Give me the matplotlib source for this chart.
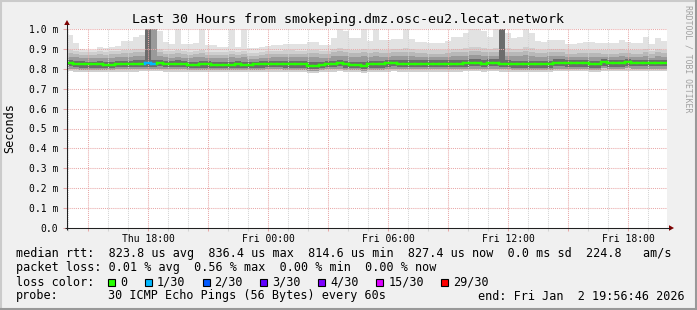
import numpy as np
import matplotlib
matplotlib.use("Agg")
import matplotlib.pyplot as plt
from matplotlib.collections import LineCollection
from matplotlib.patches import Rectangle, Polygon
from matplotlib.ticker import MultipleLocator

# ---------------- data ----------------
title = "Last 30 Hours from smokeping.dmz.osc-eu2.lecat.network"
start_hour = 13.946      # Thu 13:56:46 (hours since Thu 00:00)
span_hours = 30.0
bin_hours = 0.3

x_tick_hours = [18, 24, 30, 36, 42]
x_tick_labels = ["Thu 18:00", "Fri 00:00", "Fri 06:00", "Fri 12:00", "Fri 18:00"]
y_ticks = [0.0, 0.1, 0.2, 0.3, 0.4, 0.5, 0.6, 0.7, 0.8, 0.9, 1.0]
y_tick_labels = ["0.0", "0.1 m", "0.2 m", "0.3 m", "0.4 m", "0.5 m",
                 "0.6 m", "0.7 m", "0.8 m", "0.9 m", "1.0 m"]

median_ms = [
    0.829, 0.826, 0.822, 0.822, 0.822, 0.822, 0.819, 0.817, 0.824, 0.824,
    0.824, 0.824, 0.826, 0.831, 0.826, 0.829, 0.824, 0.824, 0.824, 0.824,
    0.817, 0.817, 0.822, 0.822, 0.819, 0.817, 0.817, 0.818, 0.822, 0.817,
    0.817, 0.822, 0.822, 0.824, 0.824, 0.824, 0.822, 0.822, 0.822, 0.822,
    0.816, 0.816, 0.818, 0.824, 0.824, 0.830, 0.822, 0.819, 0.819, 0.814,
    0.822, 0.822, 0.822, 0.828, 0.830, 0.825, 0.825, 0.825, 0.825, 0.825,
    0.825, 0.825, 0.823, 0.825, 0.825, 0.825, 0.828, 0.830, 0.830, 0.826,
    0.830, 0.830, 0.825, 0.824, 0.822, 0.822, 0.822, 0.822, 0.822, 0.822,
    0.822, 0.830, 0.830, 0.828, 0.828, 0.828, 0.828, 0.822, 0.822, 0.834,
    0.828, 0.828, 0.828, 0.834, 0.829, 0.829, 0.829, 0.829, 0.829, 0.829,
]
loss_count = [
    0, 0, 0, 0, 0, 0, 0, 0, 0, 0,
    0, 0, 0, 1, 1, 0, 0, 0, 0, 0,
    0, 0, 0, 0, 0, 0, 0, 0, 0, 0,
    0, 0, 0, 0, 0, 0, 0, 0, 0, 0,
    0, 0, 0, 0, 0, 0, 0, 0, 0, 0,
    0, 0, 0, 0, 0, 0, 0, 0, 0, 0,
    0, 0, 0, 0, 0, 0, 0, 0, 0, 0,
    0, 0, 0, 0, 0, 0, 0, 0, 0, 0,
    0, 0, 0, 0, 0, 0, 0, 0, 0, 0,
    0, 0, 0, 0, 0, 0, 0, 0, 0, 0,
]
smoke_max = [
    0.970, 0.930, 0.900, 0.895, 0.895, 0.910, 0.905, 0.910, 0.915, 0.940,
    0.940, 0.960, 0.970, 1.000, 1.000, 0.990, 0.935, 0.925, 1.000, 0.925,
    0.925, 0.930, 1.000, 0.920, 0.920, 0.910, 0.910, 1.000, 0.910, 1.000,
    0.905, 0.905, 0.910, 0.915, 0.920, 0.920, 0.925, 0.925, 0.925, 0.925,
    0.935, 0.935, 0.920, 0.920, 0.955, 1.000, 0.990, 0.955, 0.955, 1.000,
    0.940, 1.000, 0.945, 0.945, 0.950, 0.950, 1.000, 0.950, 0.935, 0.935,
    0.930, 0.930, 0.930, 0.940, 0.960, 0.960, 0.980, 1.000, 1.000, 0.990,
    0.960, 1.000, 1.000, 0.980, 0.955, 0.960, 1.000, 0.980, 0.940, 0.935,
    0.945, 0.945, 0.945, 0.925, 0.925, 0.930, 0.935, 0.935, 0.930, 0.930,
    0.930, 0.930, 0.945, 0.935, 0.930, 0.930, 0.960, 0.925, 0.955, 0.940,
]
smoke_p95 = [
    0.895, 0.890, 0.885, 0.882, 0.882, 0.888, 0.885, 0.888, 0.890, 0.895,
    0.895, 0.900, 0.900, 1.000, 1.000, 0.900, 0.890, 0.888, 0.895, 0.888,
    0.885, 0.890, 0.895, 0.885, 0.885, 0.882, 0.882, 0.890, 0.882, 0.890,
    0.880, 0.880, 0.885, 0.888, 0.890, 0.890, 0.892, 0.892, 0.890, 0.890,
    0.895, 0.895, 0.888, 0.888, 0.900, 0.905, 0.900, 0.895, 0.895, 0.900,
    0.895, 0.900, 0.895, 0.895, 0.900, 0.900, 0.905, 0.900, 0.895, 0.895,
    0.892, 0.892, 0.892, 0.895, 0.900, 0.900, 0.905, 0.910, 0.910, 0.905,
    0.900, 0.905, 1.000, 0.905, 0.900, 0.900, 0.910, 0.905, 0.895, 0.895,
    0.900, 0.900, 0.900, 0.892, 0.892, 0.895, 0.895, 0.895, 0.895, 0.892,
    0.892, 0.892, 0.898, 0.895, 0.892, 0.892, 0.900, 0.890, 0.900, 0.895,
]
smoke_p85 = [
    0.878, 0.875, 0.870, 0.868, 0.868, 0.872, 0.870, 0.872, 0.875, 0.878,
    0.878, 0.882, 0.882, 1.000, 1.000, 0.882, 0.875, 0.872, 0.878, 0.872,
    0.870, 0.875, 0.878, 0.870, 0.870, 0.868, 0.868, 0.875, 0.868, 0.875,
    0.865, 0.865, 0.870, 0.872, 0.875, 0.875, 0.876, 0.876, 0.875, 0.875,
    0.878, 0.878, 0.872, 0.872, 0.882, 0.888, 0.882, 0.878, 0.878, 0.882,
    0.878, 0.882, 0.878, 0.878, 0.882, 0.882, 0.886, 0.882, 0.878, 0.878,
    0.876, 0.876, 0.876, 0.878, 0.882, 0.882, 0.886, 0.890, 0.890, 0.886,
    0.882, 0.886, 1.000, 0.886, 0.882, 0.882, 0.890, 0.886, 0.878, 0.878,
    0.882, 0.882, 0.882, 0.876, 0.876, 0.878, 0.878, 0.878, 0.878, 0.876,
    0.876, 0.876, 0.880, 0.878, 0.876, 0.876, 0.882, 0.874, 0.882, 0.878,
]
smoke_p75 = [
    0.860, 0.858, 0.855, 0.852, 0.852, 0.855, 0.855, 0.856, 0.858, 0.860,
    0.860, 0.862, 0.862, 1.000, 1.000, 0.862, 0.858, 0.856, 0.860, 0.856,
    0.854, 0.858, 0.860, 0.855, 0.855, 0.852, 0.852, 0.858, 0.852, 0.858,
    0.850, 0.850, 0.854, 0.856, 0.858, 0.858, 0.858, 0.858, 0.858, 0.858,
    0.860, 0.860, 0.856, 0.856, 0.862, 0.866, 0.862, 0.860, 0.860, 0.862,
    0.860, 0.862, 0.860, 0.860, 0.862, 0.862, 0.865, 0.862, 0.860, 0.860,
    0.858, 0.858, 0.858, 0.860, 0.862, 0.862, 0.865, 0.868, 0.868, 0.865,
    0.862, 0.865, 1.000, 0.865, 0.862, 0.862, 0.868, 0.865, 0.860, 0.860,
    0.862, 0.862, 0.862, 0.858, 0.858, 0.860, 0.860, 0.860, 0.860, 0.858,
    0.858, 0.858, 0.862, 0.860, 0.858, 0.858, 0.862, 0.856, 0.862, 0.860,
]
smoke_p60 = [
    0.842, 0.840, 0.837, 0.836, 0.836, 0.838, 0.836, 0.835, 0.840, 0.840,
    0.840, 0.842, 0.845, 1.000, 0.845, 0.845, 0.840, 0.840, 0.842, 0.840,
    0.835, 0.836, 0.838, 0.838, 0.836, 0.834, 0.834, 0.836, 0.838, 0.834,
    0.834, 0.836, 0.838, 0.840, 0.840, 0.840, 0.838, 0.838, 0.838, 0.838,
    0.835, 0.835, 0.836, 0.840, 0.840, 0.846, 0.840, 0.836, 0.836, 0.834,
    0.838, 0.838, 0.838, 0.843, 0.845, 0.842, 0.842, 0.842, 0.842, 0.842,
    0.842, 0.842, 0.842, 0.842, 0.842, 0.842, 0.845, 0.847, 0.847, 0.843,
    0.847, 0.847, 1.000, 0.842, 0.840, 0.840, 0.840, 0.840, 0.840, 0.840,
    0.840, 0.847, 0.847, 0.845, 0.845, 0.845, 0.845, 0.840, 0.840, 0.850,
    0.845, 0.845, 0.845, 0.850, 0.846, 0.846, 0.846, 0.846, 0.846, 0.846,
]
smoke_p25 = [
    0.812, 0.810, 0.806, 0.806, 0.806, 0.806, 0.804, 0.802, 0.808, 0.808,
    0.808, 0.808, 0.810, 0.810, 0.810, 0.812, 0.808, 0.808, 0.808, 0.808,
    0.802, 0.802, 0.806, 0.806, 0.804, 0.802, 0.802, 0.803, 0.806, 0.802,
    0.802, 0.806, 0.806, 0.808, 0.808, 0.808, 0.806, 0.806, 0.806, 0.806,
    0.801, 0.801, 0.803, 0.808, 0.808, 0.812, 0.806, 0.804, 0.804, 0.800,
    0.806, 0.806, 0.806, 0.810, 0.812, 0.809, 0.809, 0.809, 0.809, 0.809,
    0.809, 0.809, 0.809, 0.809, 0.809, 0.809, 0.811, 0.812, 0.812, 0.810,
    0.812, 0.812, 0.809, 0.808, 0.806, 0.806, 0.806, 0.806, 0.806, 0.806,
    0.806, 0.812, 0.812, 0.811, 0.811, 0.811, 0.811, 0.806, 0.806, 0.815,
    0.811, 0.811, 0.811, 0.815, 0.812, 0.812, 0.812, 0.812, 0.812, 0.812,
]
smoke_p05 = [
    0.800, 0.798, 0.795, 0.795, 0.795, 0.795, 0.793, 0.792, 0.797, 0.797,
    0.797, 0.797, 0.799, 0.799, 0.799, 0.800, 0.797, 0.797, 0.797, 0.797,
    0.792, 0.792, 0.795, 0.795, 0.793, 0.792, 0.792, 0.792, 0.795, 0.792,
    0.792, 0.795, 0.795, 0.797, 0.797, 0.797, 0.795, 0.795, 0.795, 0.795,
    0.790, 0.790, 0.792, 0.797, 0.797, 0.800, 0.795, 0.793, 0.793, 0.790,
    0.795, 0.795, 0.795, 0.798, 0.800, 0.798, 0.798, 0.798, 0.798, 0.798,
    0.798, 0.798, 0.798, 0.798, 0.798, 0.798, 0.800, 0.800, 0.800, 0.798,
    0.800, 0.800, 0.798, 0.797, 0.795, 0.795, 0.795, 0.795, 0.795, 0.795,
    0.795, 0.800, 0.800, 0.799, 0.799, 0.799, 0.799, 0.795, 0.795, 0.802,
    0.799, 0.799, 0.799, 0.802, 0.800, 0.800, 0.800, 0.800, 0.800, 0.800,
]
smoke_min = [
    0.788, 0.786, 0.784, 0.784, 0.784, 0.784, 0.783, 0.782, 0.786, 0.786,
    0.786, 0.786, 0.787, 0.787, 0.787, 0.788, 0.786, 0.786, 0.786, 0.786,
    0.782, 0.782, 0.784, 0.784, 0.783, 0.782, 0.782, 0.782, 0.784, 0.782,
    0.782, 0.784, 0.784, 0.786, 0.786, 0.786, 0.784, 0.784, 0.784, 0.784,
    0.780, 0.780, 0.782, 0.786, 0.786, 0.788, 0.784, 0.783, 0.783, 0.780,
    0.784, 0.784, 0.784, 0.786, 0.788, 0.786, 0.786, 0.786, 0.786, 0.786,
    0.786, 0.786, 0.786, 0.786, 0.786, 0.786, 0.788, 0.788, 0.788, 0.786,
    0.788, 0.788, 0.786, 0.786, 0.784, 0.784, 0.784, 0.784, 0.784, 0.784,
    0.784, 0.788, 0.788, 0.787, 0.787, 0.787, 0.787, 0.784, 0.784, 0.790,
    0.787, 0.787, 0.787, 0.790, 0.788, 0.788, 0.788, 0.788, 0.788, 0.788,
]

loss_levels = [0, 1, 2, 3, 4, 15, 29]
loss_labels = ["0", "1/30", "2/30", "3/30", "4/30", "15/30", "29/30"]
loss_colors = ["#26ff00", "#00b8ff", "#0059ff", "#5e00ff", "#7e00ff", "#dd00ff", "#ff0000"]

legend_lines = [
    "median rtt:  823.8 us avg  836.4 us max  814.6 us min  827.4 us now  0.0 ms sd  224.8   am/s",
    "packet loss: 0.01 % avg  0.56 % max  0.00 % min  0.00 % now",
]
probe_label = "probe:"
probe_text = "30 ICMP Echo Pings (56 Bytes) every 60s"
end_text = "end: Fri Jan  2 19:56:46 2026"
side_text = "RRDTOOL / TOBI OETIKER"

# ---------------- style ----------------
W, H = 697, 310
L, R, T, B = 67, 667, 29, 228
BG = "#f0f0f0"
MONO = "DejaVu Sans Mono"
GRID_MINOR = "#d4d4d4"
GRID_MAJOR = "#e8a8a8"
ARROW = "#800000"

fig = plt.figure(figsize=(W / 100, H / 100), dpi=100, facecolor=BG)
ax = fig.add_axes([L / W, 1 - B / H, (R - L) / W, (B - T) / H])
ax.set_facecolor("white")
ax.set_xlim(start_hour, start_hour + span_hours)
ax.set_ylim(0, 1.0)
for s in ax.spines.values():
    s.set_visible(False)

n = len(median_ms)
edges = start_hour + bin_hours * np.arange(n + 1)


def ext(a):
    a = np.asarray(a, dtype=float)
    return np.append(a, a[-1])


layers = [
    (smoke_min, smoke_max, "#e2e2e2"),
    (smoke_min, smoke_p95, "#cfcfcf"),
    (smoke_p05, smoke_p85, "#b8b8b8"),
    (smoke_p05, smoke_p75, "#9a9a9a"),
    (smoke_p25, smoke_p60, "#6c6c6c"),
]
for lo, hi, c in layers:
    ax.fill_between(edges, ext(lo), ext(hi), step="post", color=c,
                    linewidth=0, antialiased=False, zorder=2)

# grid
ax.xaxis.set_major_locator(MultipleLocator(3))
ax.xaxis.set_minor_locator(MultipleLocator(1))
ax.set_yticks(y_ticks)
ax.set_yticklabels(y_tick_labels, family=MONO, fontsize=7)
major_x = [h for h in np.arange(15, 45, 3)]
ax.set_xticks(major_x)
ax.set_xticklabels([x_tick_labels[x_tick_hours.index(h)] if h in x_tick_hours else ""
                    for h in major_x], family=MONO, fontsize=7)
ax.grid(True, which="minor", axis="x", color=GRID_MINOR, linestyle=(0, (1, 1)),
        linewidth=0.75, zorder=3)
ax.grid(True, which="major", axis="x", color=GRID_MAJOR, linestyle=(0, (1, 1)),
        linewidth=0.75, zorder=3)
ax.grid(True, which="major", axis="y", color=GRID_MAJOR, linestyle=(0, (1, 1)),
        linewidth=0.75, zorder=3)
ax.set_axisbelow(False)
ax.tick_params(axis="y", which="major", length=3, width=0.75, color=GRID_MAJOR,
               pad=3.5, labelcolor="black")
ax.tick_params(axis="x", which="major", length=2, width=0.75, color=GRID_MAJOR,
               pad=2.5, labelcolor="black")
ax.tick_params(axis="x", which="minor", length=2, width=0.75, color=GRID_MINOR)


# median line, coloured by loss
def loss_color(c):
    col = loss_colors[0]
    for lv, lc in zip(loss_levels, loss_colors):
        if c >= lv:
            col = lc
    return col


segs, cols = [], []
for i in range(n):
    col = loss_color(loss_count[i])
    if i > 0 and median_ms[i] != median_ms[i - 1]:
        segs.append([(edges[i], median_ms[i - 1]), (edges[i], median_ms[i])])
        cols.append(col)
    segs.append([(edges[i], median_ms[i]), (edges[i + 1], median_ms[i])])
    cols.append(col)
ax.add_collection(LineCollection(segs, colors=cols, linewidths=1.7,
                                 capstyle="projecting", zorder=4))

# overlay in pixel coordinates
ov = fig.add_axes([0, 0, 1, 1], zorder=10)
ov.set_xlim(0, W)
ov.set_ylim(H, 0)
ov.axis("off")
ov.patch.set_alpha(0)

# 3D frame
ov.plot([0.5, W - 0.5], [0.5, 0.5], color="#cbcbcb", lw=1.5)
ov.plot([0.5, 0.5], [0.5, H - 0.5], color="#cbcbcb", lw=1.5)
ov.plot([0, W], [H - 1, H - 1], color="#999999", lw=1.5)
ov.plot([W - 1, W - 1], [0, H], color="#999999", lw=1.5)

# axes with arrows
ov.plot([L, L], [B + 2, T - 5], color="#202020", lw=0.75, solid_capstyle="butt")
ov.plot([L - 2, R + 3], [B, B], color="#202020", lw=0.75, solid_capstyle="butt")
ov.add_patch(Polygon([(L - 2.8, T - 4), (L + 2.8, T - 4), (L, T - 9)],
                     closed=True, color=ARROW, lw=0))
ov.add_patch(Polygon([(R + 2, B - 2.8), (R + 2, B + 2.8), (R + 7, B)],
                     closed=True, color=ARROW, lw=0))

# texts
ov.text(W / 2, 19, title, family=MONO, fontsize=9.6, ha="center", va="center")
ov.text(10, (T + B) / 2, "Seconds", family=MONO, fontsize=8.5, rotation=90,
        ha="center", va="center")
ov.text(688, 59, side_text, family=MONO, fontsize=5.9, rotation=270,
        ha="center", va="center", color="#a0a0a0")

LX = 16
for k, line in enumerate(legend_lines):
    ov.text(LX, 254 + 14 * k, line, family=MONO, fontsize=8.5, ha="left", va="center")

ov.text(LX, 282, "loss color:", family=MONO, fontsize=8.5, ha="left", va="center")
cw = 7.1
bx = 108
for lab, col in zip(loss_labels, loss_colors):
    ov.add_patch(Rectangle((bx, 278.5), 7, 7, facecolor=col, edgecolor="black", lw=0.8))
    ov.text(bx + 12, 282, lab, family=MONO, fontsize=8.5, ha="left", va="center")
    bx = bx + 12 + len(lab) * cw + 17.5

ov.text(LX, 296, probe_label, family=MONO, fontsize=8.5, ha="left", va="center")
ov.text(108, 296, probe_text, family=MONO, fontsize=8.5, ha="left", va="center")
ov.text(478, 296, end_text, family=MONO, fontsize=8.5, ha="left", va="center")

fig.savefig("out.png", dpi=100, facecolor=BG)
